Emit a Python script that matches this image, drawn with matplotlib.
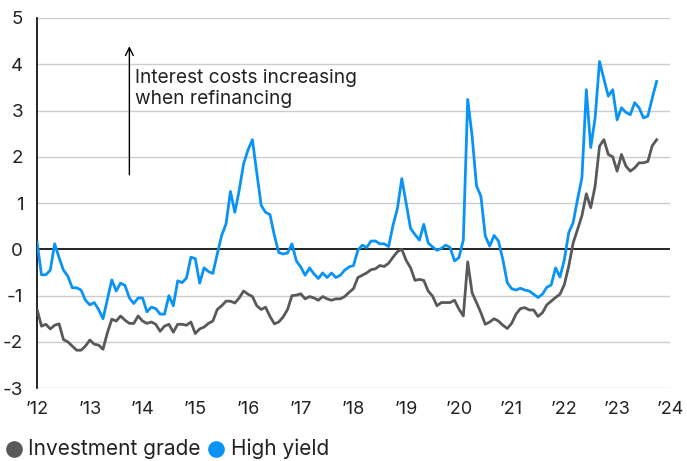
import matplotlib
matplotlib.use("Agg")
import matplotlib.pyplot as plt
from matplotlib.lines import Line2D
import numpy as np

plt.rcParams['font.family'] = ['Inter', 'DejaVu Sans']

start_year = 2012
high_yield = [
    0.15, -0.55, -0.55, -0.45, 0.12, -0.18, -0.45, -0.58, -0.83, -0.83,
    -0.88, -1.1, -1.2, -1.15, -1.3, -1.5, -1.08, -0.66, -0.9, -0.73,
    -0.78, -1.05, -1.17, -1.05, -1.05, -1.35, -1.25, -1.28, -1.4, -1.4,
    -1.0, -1.22, -0.68, -0.72, -0.62, -0.17, -0.2, -0.73, -0.4, -0.48,
    -0.52, -0.1, 0.3, 0.55, 1.25, 0.8, 1.28, 1.85, 2.15, 2.37,
    1.65, 0.95, 0.8, 0.75, 0.3, -0.07, -0.1, -0.08, 0.12, -0.25,
    -0.38, -0.56, -0.4, -0.53, -0.63, -0.51, -0.61, -0.51, -0.61, -0.56,
    -0.45, -0.38, -0.35, -0.02, 0.09, 0.04, 0.18, 0.18, 0.12, 0.12,
    0.06, 0.52, 0.88, 1.53, 0.99, 0.45, 0.32, 0.2, 0.54, 0.14,
    0.05, -0.02, 0.02, 0.09, 0.04, -0.25, -0.18, 0.2, 3.24, 2.45,
    1.37, 1.15, 0.29, 0.07, 0.3, 0.18, -0.22, -0.72, -0.85, -0.88,
    -0.84, -0.88, -0.9, -0.97, -1.04, -0.97, -0.82, -0.77, -0.4, -0.6,
    -0.22, 0.36, 0.58, 1.08, 1.55, 3.45, 2.2, 2.84, 4.06, 3.68,
    3.31, 3.45, 2.8, 3.06, 2.96, 2.91, 3.17, 3.06, 2.84, 2.88,
    3.27, 3.63,
]
investment_grade = [
    -1.3, -1.66, -1.62, -1.72, -1.64, -1.61, -1.95, -2.0, -2.09, -2.18,
    -2.18, -2.09, -1.96, -2.05, -2.07, -2.16, -1.8, -1.51, -1.55, -1.44,
    -1.53, -1.6, -1.6, -1.44, -1.55, -1.6, -1.57, -1.62, -1.77, -1.66,
    -1.62, -1.79, -1.62, -1.62, -1.64, -1.57, -1.82, -1.72, -1.68, -1.6,
    -1.55, -1.3, -1.22, -1.12, -1.12, -1.16, -1.05, -0.9, -0.97, -1.02,
    -1.22, -1.3, -1.25, -1.45, -1.61, -1.57, -1.46, -1.3, -1.0, -0.99,
    -0.96, -1.07, -1.02, -1.05, -1.1, -1.02, -1.07, -1.1, -1.07, -1.07,
    -1.02, -0.93, -0.85, -0.61, -0.56, -0.51, -0.44, -0.42, -0.35, -0.37,
    -0.3, -0.17, -0.05, 0.0, -0.24, -0.4, -0.67, -0.65, -0.67, -0.9,
    -1.01, -1.22, -1.15, -1.15, -1.15, -1.1, -1.29, -1.44, -0.27, -0.94,
    -1.15, -1.37, -1.62, -1.57, -1.5, -1.55, -1.64, -1.71, -1.6, -1.4,
    -1.28, -1.26, -1.31, -1.31, -1.45, -1.37, -1.2, -1.12, -1.04, -0.97,
    -0.76, -0.36, 0.14, 0.43, 0.73, 1.2, 0.9, 1.37, 2.23, 2.37,
    2.05, 2.0, 1.69, 2.05, 1.8, 1.69, 1.76, 1.87, 1.87, 1.9,
    2.24, 2.37,
]
year_ticks = list(range(2012, 2025))
year_labels = ["\u2019" + str(y)[2:] for y in year_ticks]
y_ticks = list(range(-3, 6))
series_names = ["Investment grade", "High yield"]
annotation = "Interest costs increasing\nwhen refinancing"

x = start_year + np.arange(len(high_yield)) / 12.0

GRAY = "#58595b"
BLUE = "#0a93f7"
TEXT = "#222222"

fig = plt.figure(figsize=(6.87, 4.61), dpi=100)
ax = fig.add_axes([0.054, 0.158, 0.921, 0.803])

for yt in y_ticks:
    if yt == 0:
        continue
    ax.axhline(yt, color="#cccccc", lw=1.0, zorder=0)
ax.axhline(0, color="black", lw=1.2, zorder=1)

ax.plot(x, investment_grade, color=GRAY, lw=2.0, zorder=3)
ax.plot(x, high_yield, color=BLUE, lw=2.0, zorder=4)

ax.set_xlim(2012, 2024)
ax.set_ylim(-3, 5)
ax.set_xticks(year_ticks)
ax.set_xticklabels(year_labels, fontsize=13)
ax.set_yticks(y_ticks)
ax.set_yticklabels([str(v) for v in y_ticks], fontsize=13.5)
ax.tick_params(axis='both', length=0, colors=TEXT)
ax.tick_params(axis='x', pad=9)
ax.tick_params(axis='y', pad=10)
for s in ["top", "right", "bottom"]:
    ax.spines[s].set_visible(False)
ax.spines["left"].set_color("black")
ax.spines["left"].set_linewidth(1.2)

ax.annotate("", xy=(2013.75, 4.45), xytext=(2013.75, 1.55),
            arrowprops=dict(arrowstyle="->", color="black", lw=1.0,
                            mutation_scale=14))
ax.text(2013.85, 3.47, annotation, fontsize=13.8, va="center", ha="left",
        color=TEXT, linespacing=1.2)

# legend
ly = 1 - 449 / 461
fig.add_artist(Line2D([14 / 687], [ly], marker="o", ms=11, color=GRAY,
                      transform=fig.transFigure, linestyle="none"))
fig.text(28 / 687, ly, series_names[0], color=TEXT, fontsize=15, va="center", ha="left")
fig.add_artist(Line2D([216 / 687], [ly], marker="o", ms=11, color=BLUE,
                      transform=fig.transFigure, linestyle="none"))
fig.text(231 / 687, ly, series_names[1], color=TEXT, fontsize=15, va="center", ha="left")

fig.savefig("out.png", dpi=100)
